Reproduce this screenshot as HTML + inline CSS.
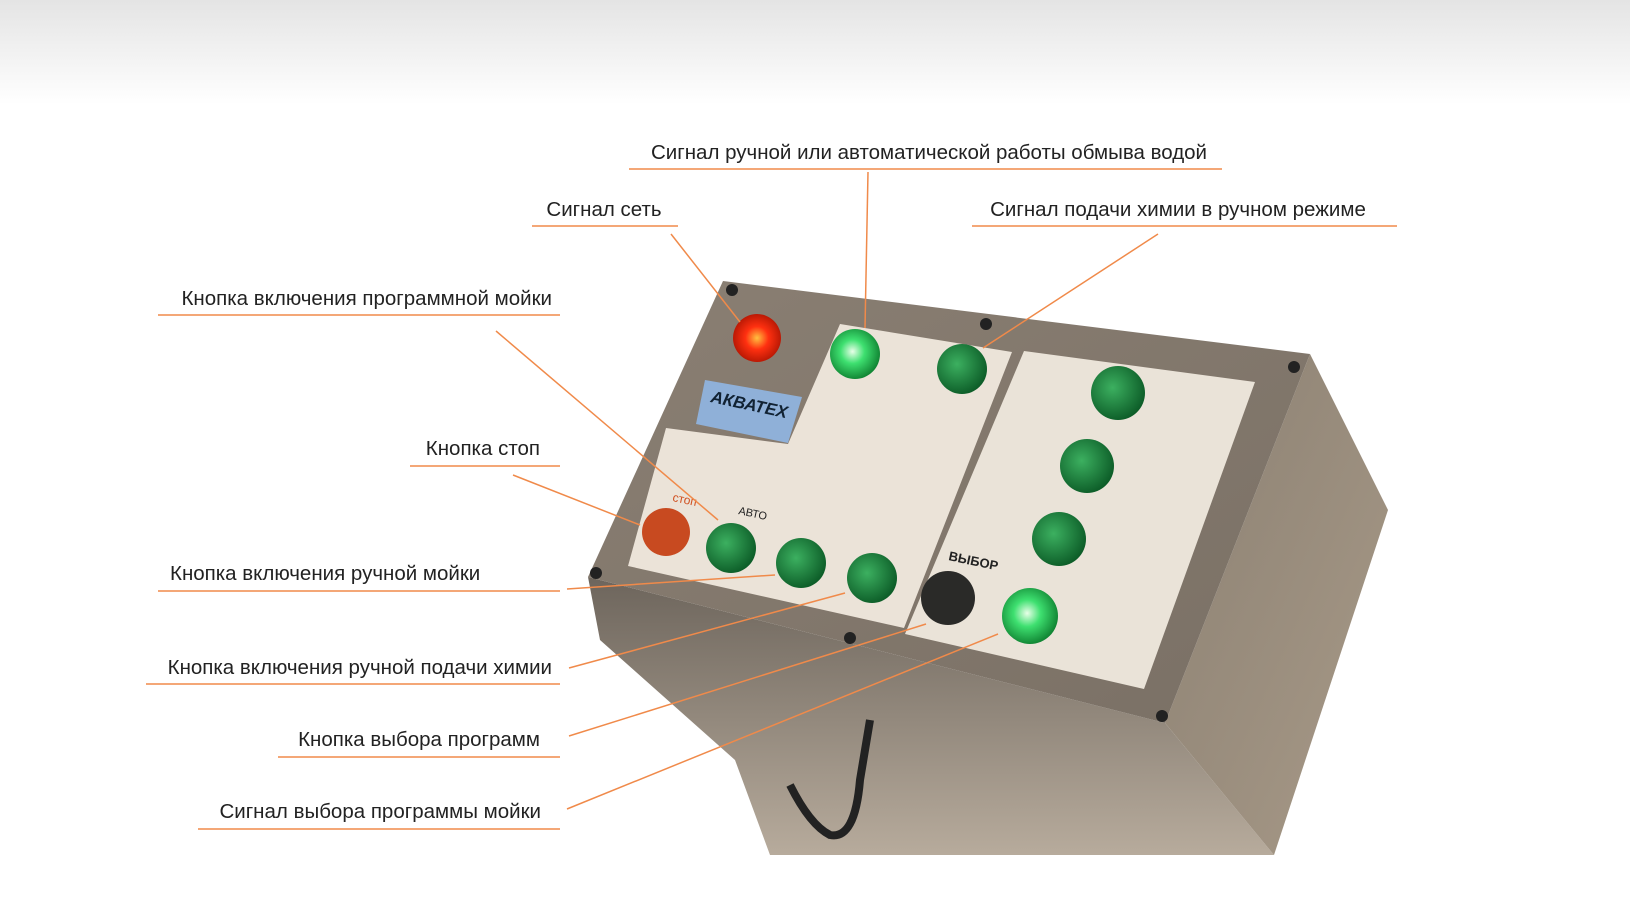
<!DOCTYPE html>
<html><head><meta charset="utf-8"><style>
html,body{margin:0;padding:0;background:#fff;}
svg{display:block}
text{font-family:"Liberation Sans",sans-serif;font-size:20.5px;fill:#222}
</style></head><body>
<svg width="1630" height="907" viewBox="0 0 1630 907" xmlns="http://www.w3.org/2000/svg">
<defs>
<linearGradient id="top" x1="0" y1="0" x2="0" y2="1"><stop offset="0" stop-color="#e4e4e4"/><stop offset="1" stop-color="#fff"/></linearGradient>
<linearGradient id="face" x1="0" y1="0" x2="1" y2="1"><stop offset="0" stop-color="#8a7f73"/><stop offset="1" stop-color="#7a7065"/></linearGradient>
<linearGradient id="side" x1="0" y1="0" x2="1" y2="1"><stop offset="0" stop-color="#8b8072"/><stop offset="1" stop-color="#a89a88"/></linearGradient>
<linearGradient id="bot" x1="0" y1="0" x2="0" y2="1"><stop offset="0" stop-color="#6d655c"/><stop offset="1" stop-color="#b7ab9c"/></linearGradient>
<radialGradient id="gl" cx="0.45" cy="0.45" r="0.6"><stop offset="0" stop-color="#e8ffe8"/><stop offset="0.4" stop-color="#3ee070"/><stop offset="1" stop-color="#0b7a2c"/></radialGradient>
<radialGradient id="gd" cx="0.4" cy="0.4" r="0.65"><stop offset="0" stop-color="#3cb060"/><stop offset="1" stop-color="#0b5a26"/></radialGradient>
<radialGradient id="rd" cx="0.5" cy="0.5" r="0.6"><stop offset="0" stop-color="#ffc040"/><stop offset="0.4" stop-color="#ff3010"/><stop offset="1" stop-color="#a01000"/></radialGradient>
</defs>
<rect x="0" y="0" width="1630" height="105" fill="url(#top)"/>
<polygon points="588,577 1165,723 1274,855 770,855 735,760 600,640" fill="url(#bot)"/>
<polygon points="1310,354 1388,510 1274,855 1165,723" fill="url(#side)"/>
<polygon points="723,281 1310,354 1165,723 588,577" fill="url(#face)"/>
<polygon points="840,324 1012,352 904,628 628,566 666,428 788,444" fill="#ebe3d8"/>
<polygon points="1024,351 1255,382 1144,689 905,634" fill="#eae3d8"/>
<polygon points="705,380 802,397 788,443 696,424" fill="#8fb0d8"/>
<text x="710" y="402" transform="rotate(12 710 402)" style="font-size:17px;font-weight:bold;font-style:italic;fill:#123">АКВАТЕХ</text>
<g fill="#222">
<circle cx="732" cy="290" r="6"/><circle cx="986" cy="324" r="6"/><circle cx="1294" cy="367" r="6"/>
<circle cx="596" cy="573" r="6"/><circle cx="850" cy="638" r="6"/><circle cx="1162" cy="716" r="6"/>
</g>
<path d="M870 720 l-10 60 q-5 60 -30 55 q-20 -10 -40 -50" stroke="#222" stroke-width="8" fill="none"/>
<circle cx="757" cy="338" r="24" fill="url(#rd)"/>
<circle cx="855" cy="354" r="25" fill="url(#gl)"/>
<circle cx="962" cy="369" r="25" fill="url(#gd)"/>
<circle cx="1118" cy="393" r="27" fill="url(#gd)"/>
<circle cx="1087" cy="466" r="27" fill="url(#gd)"/>
<circle cx="1059" cy="539" r="27" fill="url(#gd)"/>
<circle cx="1030" cy="616" r="28" fill="url(#gl)"/>
<circle cx="948" cy="598" r="27" fill="#2a2a28"/>
<circle cx="666" cy="532" r="24" fill="#c84a20"/>
<circle cx="731" cy="548" r="25" fill="url(#gd)"/>
<circle cx="801" cy="563" r="25" fill="url(#gd)"/>
<circle cx="872" cy="578" r="25" fill="url(#gd)"/>
<text x="948" y="560" transform="rotate(12 948 560)" style="font-size:13px;font-weight:bold">ВЫБОР</text>
<text x="738" y="514" transform="rotate(12 738 514)" style="font-size:11px">АВТО</text>
<text x="672" y="501" transform="rotate(12 672 501)" style="font-size:12px;fill:#d05020">стоп</text>
<g stroke="#f08a4a" stroke-width="1.5" fill="none">
<line x1="629" y1="169" x2="1222" y2="169"/><line x1="868" y1="172" x2="865" y2="328"/>
<line x1="532" y1="226" x2="678" y2="226"/><line x1="671" y1="234" x2="740" y2="322"/>
<line x1="972" y1="226" x2="1397" y2="226"/><line x1="1158" y1="234" x2="983" y2="348"/>
<line x1="158" y1="315" x2="560" y2="315"/><line x1="496" y1="331" x2="718" y2="520"/>
<line x1="410" y1="466" x2="560" y2="466"/><line x1="513" y1="475" x2="640" y2="525"/>
<line x1="158" y1="591" x2="560" y2="591"/><line x1="567" y1="589" x2="775" y2="575"/>
<line x1="146" y1="684" x2="560" y2="684"/><line x1="569" y1="668" x2="845" y2="593"/>
<line x1="278" y1="757" x2="560" y2="757"/><line x1="569" y1="736" x2="926" y2="624"/>
<line x1="198" y1="829" x2="560" y2="829"/><line x1="567" y1="809" x2="998" y2="634"/>
</g>
<text x="929" y="159" text-anchor="middle">Сигнал ручной или автоматической работы обмыва водой</text>
<text x="604" y="216" text-anchor="middle">Сигнал сеть</text>
<text x="1178" y="216" text-anchor="middle">Сигнал подачи химии в ручном режиме</text>
<text x="552" y="305" text-anchor="end">Кнопка включения программной мойки</text>
<text x="540" y="455" text-anchor="end">Кнопка стоп</text>
<text x="170" y="580">Кнопка включения ручной мойки</text>
<text x="552" y="674" text-anchor="end">Кнопка включения ручной подачи химии</text>
<text x="540" y="746" text-anchor="end">Кнопка выбора программ</text>
<text x="541" y="818" text-anchor="end">Сигнал выбора программы мойки</text>
</svg>
</body></html>
